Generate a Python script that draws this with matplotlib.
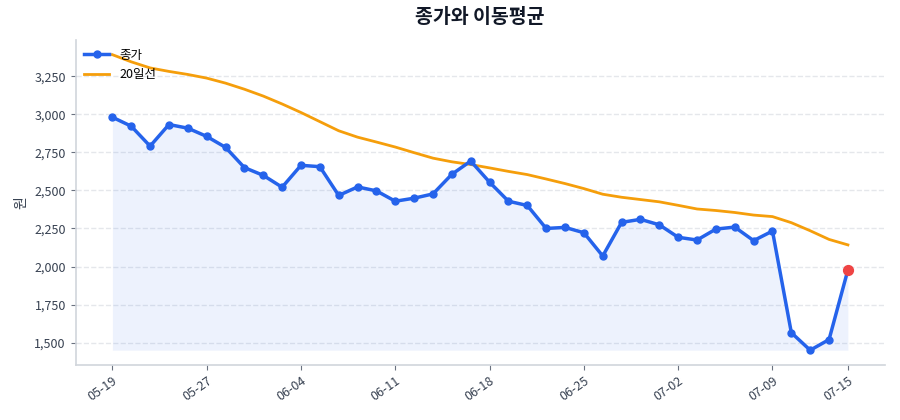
import numpy as np
import matplotlib
matplotlib.use('Agg')
import matplotlib.pyplot as plt

plt.rcParams['font.family'] = ['Noto Sans CJK KR', 'DejaVu Sans']

dates = ['05-19', '05-20', '05-21', '05-22', '05-23', '05-27', '05-28', '05-29', '05-30', '06-02',
         '06-04', '06-05', '06-06', '06-09', '06-10', '06-11', '06-12', '06-13', '06-16', '06-17',
         '06-18', '06-19', '06-20', '06-23', '06-24', '06-25', '06-26', '06-27', '06-30', '07-01',
         '07-02', '07-03', '07-04', '07-07', '07-08', '07-09', '07-10', '07-11', '07-14', '07-15']

close = [2981, 2922, 2791, 2933, 2909, 2855, 2783, 2650, 2599, 2521,
         2665, 2656, 2467, 2523, 2497, 2429, 2449, 2477, 2606, 2693,
         2554, 2429, 2401, 2250, 2257, 2222, 2069, 2290, 2310, 2274,
         2192, 2174, 2246, 2259, 2170, 2233, 1565, 1450, 1520, 1978]

ma20 = [3392, 3345, 3305, 3282, 3262, 3238, 3205, 3165, 3120, 3068,
        3012, 2952, 2892, 2850, 2818, 2785, 2748, 2712, 2688, 2670,
        2648, 2625, 2604, 2575, 2545, 2512, 2475, 2455, 2440, 2425,
        2402, 2378, 2368, 2355, 2338, 2328, 2288, 2235, 2178, 2142]

x = np.arange(len(dates))

fig, ax = plt.subplots(figsize=(9, 4.2), dpi=100)
fig.subplots_adjust(left=0.084, right=0.983, bottom=0.131, top=0.905)

ax.fill_between(x, close, min(close), color='#2563eb', alpha=0.08, linewidth=0)
ax.plot(x, close, color='#2563eb', linewidth=2.5, marker='o', markersize=5, label='종가', zorder=3)
ax.plot(x, ma20, color='#f59e0b', linewidth=2, label='20일선', zorder=2)
ax.scatter([x[-1]], [close[-1]], color='#ef4444', s=50, zorder=5)

ticks = list(range(0, len(dates), 5))
if ticks[-1] != len(dates) - 1:
    ticks.append(len(dates) - 1)
ax.set_xticks(ticks)
ax.set_xticklabels([dates[i] for i in ticks], rotation=35, ha='right', rotation_mode='anchor')

ax.set_yticks(np.arange(1500, 3251, 250))
ax.yaxis.set_major_formatter(matplotlib.ticker.FuncFormatter(lambda v, p: f'{int(v):,}'))

ax.set_title('종가와 이동평균', fontsize=14, fontweight='bold', color='#111827', pad=12)
ax.set_ylabel('원', color='#374151', fontsize=10)

ax.grid(axis='y', linestyle='--', color='#e5e7eb', linewidth=1)
ax.set_axisbelow(True)
for s in ['top', 'right']:
    ax.spines[s].set_visible(False)
for s in ['left', 'bottom']:
    ax.spines[s].set_color('#d1d5db')
    ax.spines[s].set_linewidth(1.2)
ax.tick_params(colors='#6b7280', labelcolor='#374151', labelsize=9)

ax.legend(loc='upper left', frameon=False, fontsize=9, borderaxespad=0.3)

fig.savefig('out.png')
